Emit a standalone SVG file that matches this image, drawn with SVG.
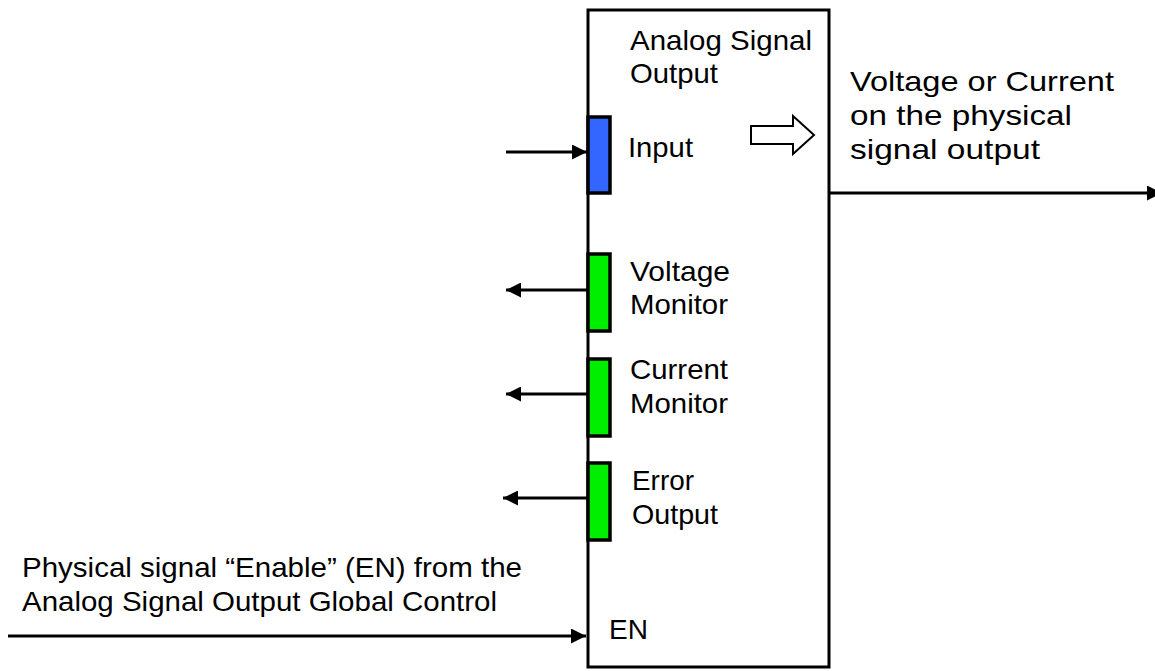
<svg xmlns="http://www.w3.org/2000/svg" width="1155" height="671" viewBox="0 0 1155 671">
<style>
text{font-family:"Liberation Sans",Arial,sans-serif;font-size:28px;fill:#000}
.ln{stroke:#000;stroke-width:3;fill:none}
.port{stroke:#000;stroke-width:3.5}
</style>
<defs>
<marker id="ah" viewBox="0 0 10 10" refX="10" refY="5" markerWidth="5.5" markerHeight="5" markerUnits="strokeWidth" orient="auto">
<path d="M0,0 L10,5 L0,10 Z" fill="#000"/>
</marker>
</defs>
<rect width="1155" height="671" fill="#fff"/>
<g id="block">
<rect x="588" y="10" width="241" height="657" class="ln"/>
<text x="630" y="50" textLength="182" lengthAdjust="spacingAndGlyphs">Analog Signal</text>
<text x="630" y="83" textLength="88" lengthAdjust="spacingAndGlyphs">Output</text>
<path d="M751,126 H793 V116 L814,135 L793,154 V144 H751 Z" fill="#fff" stroke="#000" stroke-width="2"/>
</g>
<g id="port-input">
<rect x="588" y="117" width="22" height="76" fill="#3366ff" class="port"/>
<text x="628" y="157" textLength="65" lengthAdjust="spacingAndGlyphs">Input</text>
</g>
<g id="port-voltage">
<rect x="588" y="254" width="22" height="77" fill="#00ee00" class="port"/>
<text x="630" y="281" textLength="100" lengthAdjust="spacingAndGlyphs">Voltage</text>
<text x="630" y="314" textLength="98" lengthAdjust="spacingAndGlyphs">Monitor</text>
</g>
<g id="port-current">
<rect x="588" y="359" width="22" height="77" fill="#00ee00" class="port"/>
<text x="630" y="379" textLength="98" lengthAdjust="spacingAndGlyphs">Current</text>
<text x="630" y="413" textLength="98" lengthAdjust="spacingAndGlyphs">Monitor</text>
</g>
<g id="port-error">
<rect x="588" y="463" width="22" height="77" fill="#00ee00" class="port"/>
<text x="632" y="490" textLength="62" lengthAdjust="spacingAndGlyphs">Error</text>
<text x="632" y="524" textLength="86" lengthAdjust="spacingAndGlyphs">Output</text>
</g>
<g id="port-en">
<text x="609" y="639">EN</text>
</g>
<g id="label-output">
<text x="850" y="91" textLength="264" lengthAdjust="spacingAndGlyphs">Voltage or Current</text>
<text x="850" y="125" textLength="222" lengthAdjust="spacingAndGlyphs">on the physical</text>
<text x="850" y="159" textLength="190" lengthAdjust="spacingAndGlyphs">signal output</text>
</g>
<g id="label-enable">
<text x="22" y="577" textLength="500" lengthAdjust="spacingAndGlyphs">Physical signal “Enable” (EN) from the</text>
<text x="22" y="611" textLength="475" lengthAdjust="spacingAndGlyphs">Analog Signal Output Global Control</text>
</g>
<g id="connectors">
<line x1="506" y1="152" x2="587" y2="152" class="ln" marker-end="url(#ah)"/>
<line x1="587" y1="290" x2="506" y2="290" class="ln" marker-end="url(#ah)"/>
<line x1="587" y1="394" x2="506" y2="394" class="ln" marker-end="url(#ah)"/>
<line x1="587" y1="498" x2="503" y2="498" class="ln" marker-end="url(#ah)"/>
<line x1="8" y1="636" x2="586" y2="636" class="ln" marker-end="url(#ah)"/>
<line x1="829" y1="193" x2="1162" y2="193" class="ln" marker-end="url(#ah)"/>
</g>
</svg>
